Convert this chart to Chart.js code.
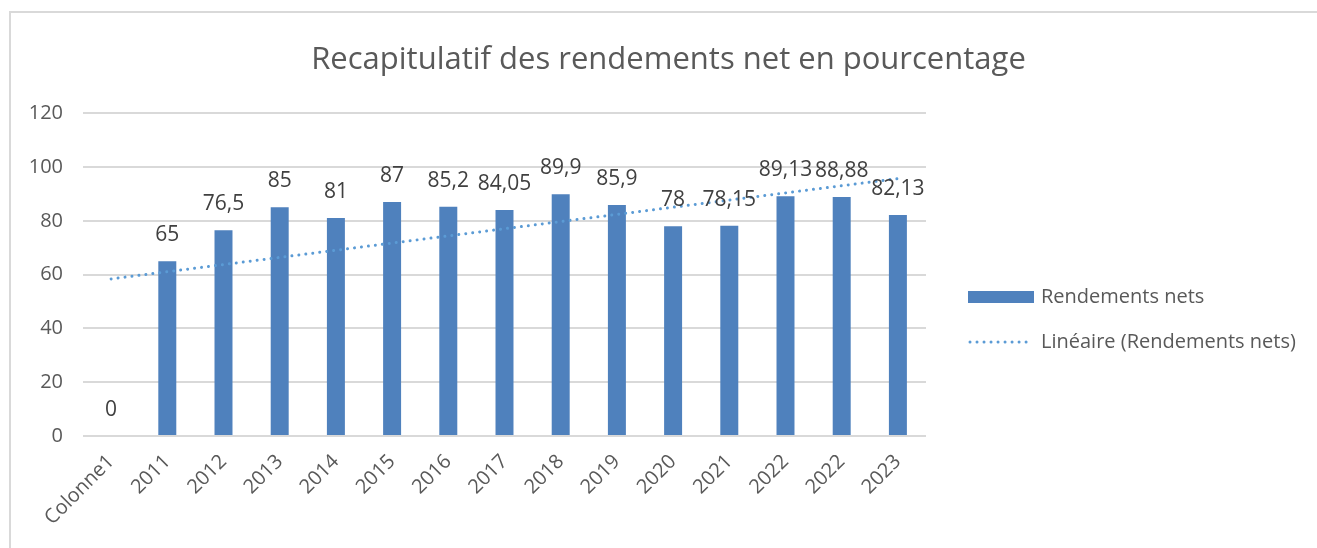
<!DOCTYPE html>
<html>
<head>
<meta charset="utf-8">
<script src="https://cdn.jsdelivr.net/npm/chart.js@4.4.1/dist/chart.umd.min.js"></script>
<style>
    html, body { margin: 0; padding: 0; background: #fff; overflow: hidden; }
    #frame { position: absolute; left: 9px; top: 11px; width: 1400px; height: 600px; border: 2px solid #d9d9d9; }
    #wrap { position: absolute; left: 0; top: 0; width: 1317px; height: 548px; }
</style>
</head>
<body>
<div id="frame"></div>
<div id="wrap"><canvas id="rendChart"></canvas></div>
<script>
const categories = ['Colonne1', '2011', '2012', '2013', '2014', '2015', '2016', '2017', '2018', '2019', '2020', '2021', '2022', '2022', '2023'];
const rendements = [0, 65, 76.5, 85, 81, 87, 85.2, 84.05, 89.9, 85.9, 78, 78.15, 89.13, 88.88, 82.13];
// trend line: value at first and last category
const trendStart = 58.4;
const trendEnd = 95.7;
const yTicks = [0, 20, 40, 60, 80, 100, 120];

const trend = categories.map((c, i) => i === 0 ? trendStart : (i === categories.length - 1 ? trendEnd : null));

const FONT = "'Open Sans', 'Noto Sans', sans-serif";
const GREY = '#595959';

// values written above the bars, french decimal comma
const barLabels = {
    id: 'barLabels',
    afterDatasetsDraw(chart) {
        const meta = chart.getDatasetMeta(1);
        const ctx = chart.ctx;
        ctx.save();
        ctx.font = '21px ' + FONT;
        ctx.fillStyle = '#404040';
        ctx.textAlign = 'center';
        ctx.textBaseline = 'middle';
        meta.data.forEach((bar, i) => {
            ctx.fillText(String(rendements[i]).replace('.', ','), bar.x, bar.y - 26);
        });
        ctx.restore();
    }
};

// legend drawn in the space kept free on the right
const sideLegend = {
    id: 'sideLegend',
    afterDraw(chart) {
        const ctx = chart.ctx;
        const x0 = chart.chartArea.right + 42;
        const y1 = 297, y2 = 342;
        const bars = chart.data.datasets[1];
        const line = chart.data.datasets[0];
        ctx.save();
        ctx.fillStyle = bars.backgroundColor;
        ctx.fillRect(x0, y1 - 6, 66, 12);

        ctx.strokeStyle = line.borderColor;
        ctx.lineWidth = line.borderWidth;
        ctx.lineCap = 'round';
        ctx.setLineDash(line.borderDash);
        ctx.beginPath();
        ctx.moveTo(x0 + 2, y2);
        ctx.lineTo(x0 + 64, y2);
        ctx.stroke();
        ctx.setLineDash([]);

        ctx.font = '20px ' + FONT;
        ctx.fillStyle = GREY;
        ctx.textBaseline = 'middle';
        ctx.fillText(bars.label, x0 + 73, y1);
        ctx.fillText(line.label, x0 + 73, y2);
        ctx.restore();
    }
};

new Chart(document.getElementById('rendChart'), {
    type: 'bar',
    data: {
        labels: categories,
        datasets: [
            {
                type: 'line',
                label: 'Linéaire (Rendements nets)',
                data: trend,
                spanGaps: true,
                borderColor: '#5b9bd5',
                borderWidth: 3,
                borderDash: [0.01, 7],
                borderCapStyle: 'round',
                pointRadius: 0,
                fill: false,
                order: 0
            },
            {
                label: 'Rendements nets',
                data: rendements,
                backgroundColor: '#4f81bd',
                barPercentage: 0.32,
                categoryPercentage: 1,
                order: 1
            }
        ]
    },
    options: {
        responsive: true,
        maintainAspectRatio: false,
        animation: false,
        layout: { padding: { left: 20, right: 0, top: 0, bottom: 0 } },
        plugins: {
            legend: { display: false },
            tooltip: { enabled: false },
            title: {
                display: true,
                text: 'Recapitulatif des rendements net en pourcentage',
                color: GREY,
                font: { family: FONT, size: 31, weight: 'normal' },
                padding: { top: 42, bottom: 34 }
            }
        },
        scales: {
            x: {
                grid: { display: false },
                border: { display: false },
                ticks: {
                    color: GREY,
                    font: { family: FONT, size: 20 },
                    minRotation: 45,
                    maxRotation: 45,
                    autoSkip: false,
                    padding: 6
                },
                afterFit(s) { s.height = 112; }
            },
            y: {
                min: 0,
                max: 120,
                afterBuildTicks(s) { s.ticks = yTicks.map(v => ({ value: v })); },
                grid: { color: '#d9d9d9', lineWidth: 2, drawTicks: false },
                border: { display: false },
                ticks: {
                    color: GREY,
                    font: { family: FONT, size: 20 },
                    padding: 20
                },
                afterFit(s) { s.width = 63; }
            },
            legendSpace: {
                type: 'linear',
                position: 'right',
                display: true,
                grid: { display: false },
                border: { display: false },
                ticks: { display: false },
                afterFit(s) { s.width = 391; }
            }
        }
    },
    plugins: [barLabels, sideLegend]
});
</script>
</body>
</html>
